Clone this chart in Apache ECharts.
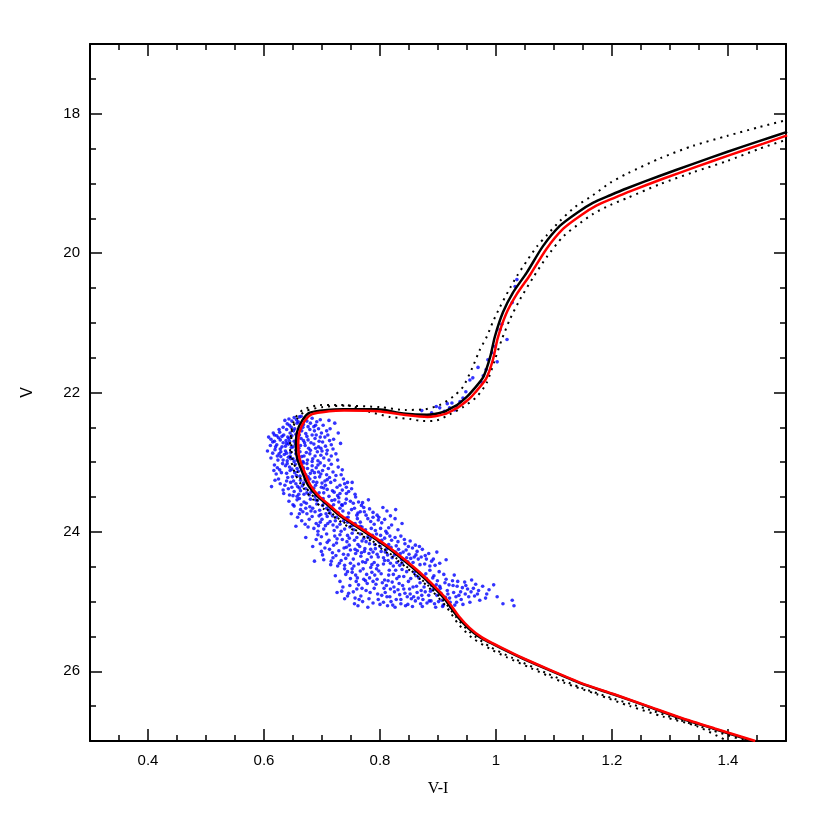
<!DOCTYPE html>
<html>
<head>
<meta charset="utf-8">
<script src="https://cdn.jsdelivr.net/npm/echarts@6/dist/echarts.min.js"></script>
<style>
  html, body { margin: 0; padding: 0; background: #fff; }
  #chart { width: 830px; height: 830px; }
</style>
</head>
<body>
<div id="chart"></div>
<script>
// tick values
const xMajor = [0.4, 0.6, 0.8, 1, 1.2, 1.4];
const yMajor = [18, 20, 22, 24, 26];

// isochrone, black solid (V-I, V), from faint MS up to the RGB
const isoBlack = [
  [1.443,27.00],[1.374,26.82],[1.317,26.67],[1.260,26.50],[1.202,26.33],[1.145,26.17],
  [1.088,25.97],[1.047,25.82],[1.029,25.75],[0.990,25.59],[0.972,25.51],[0.952,25.38],
  [0.933,25.21],[0.912,24.97],[0.886,24.74],[0.860,24.54],[0.834,24.36],[0.809,24.20],
  [0.783,24.05],[0.757,23.91],[0.731,23.77],[0.709,23.61],[0.691,23.48],[0.676,23.33],
  [0.666,23.14],[0.657,22.94],[0.655,22.76],[0.657,22.57],[0.666,22.40],[0.679,22.29],
  [0.709,22.25],[0.736,22.24],[0.795,22.24],[0.840,22.30],[0.881,22.32],[0.909,22.28],
  [0.926,22.21],[0.933,22.18],[0.950,22.06],[0.960,21.97],[0.978,21.78],[0.990,21.49],
  [0.998,21.20],[1.012,20.85],[1.029,20.57],[1.053,20.28],[1.081,19.90],[1.110,19.61],
  [1.140,19.42],[1.167,19.28],[1.197,19.17],[1.226,19.07],[1.283,18.89],[1.340,18.72],
  [1.398,18.55],[1.455,18.39],[1.502,18.26]
];

// fitted isochrone, red
const isoRed = [
  [1.447,27.00],[1.377,26.82],[1.320,26.67],[1.262,26.50],[1.204,26.33],[1.147,26.17],
  [1.090,25.97],[1.049,25.82],[1.031,25.75],[0.992,25.59],[0.975,25.51],[0.955,25.38],
  [0.936,25.21],[0.915,24.97],[0.889,24.74],[0.863,24.54],[0.837,24.36],[0.812,24.20],
  [0.786,24.05],[0.760,23.91],[0.734,23.77],[0.712,23.61],[0.694,23.48],[0.680,23.33],
  [0.670,23.14],[0.661,22.94],[0.659,22.76],[0.661,22.57],[0.670,22.41],[0.683,22.31],
  [0.712,22.27],[0.738,22.26],[0.797,22.27],[0.841,22.32],[0.882,22.35],[0.911,22.31],
  [0.929,22.24],[0.937,22.20],[0.954,22.09],[0.964,22.00],[0.983,21.80],[0.995,21.52],
  [1.003,21.22],[1.017,20.88],[1.035,20.60],[1.059,20.31],[1.087,19.94],[1.116,19.65],
  [1.146,19.46],[1.173,19.32],[1.203,19.21],[1.232,19.11],[1.289,18.93],[1.346,18.76],
  [1.404,18.59],[1.461,18.43],[1.502,18.31]
];

// dotted isochrone, bluer/brighter
const isoDotA = [
  [1.438,27.02],[1.374,26.85],[1.317,26.70],[1.260,26.54],[1.202,26.39],[1.145,26.23],
  [1.088,26.03],[1.029,25.81],[0.990,25.65],[0.955,25.44],[0.931,25.22],[0.910,24.99],
  [0.883,24.77],[0.856,24.57],[0.830,24.39],[0.804,24.23],[0.778,24.08],[0.752,23.94],
  [0.727,23.80],[0.704,23.64],[0.686,23.50],[0.670,23.34],[0.658,23.15],[0.649,22.95],
  [0.647,22.75],[0.648,22.55],[0.657,22.38],[0.671,22.27],[0.700,22.21],[0.740,22.19],
  [0.800,22.21],[0.843,22.25],[0.878,22.24],[0.903,22.18],[0.926,22.06],[0.943,21.92],
  [0.960,21.63],[0.972,21.39],[0.984,21.20],[0.995,20.98],[1.007,20.77],[1.021,20.55],
  [1.036,20.33],[1.055,20.09],[1.071,19.90],[1.088,19.74],[1.110,19.54],[1.136,19.34],
  [1.167,19.17],[1.197,18.99],[1.226,18.86],[1.283,18.64],[1.340,18.46],[1.398,18.32],
  [1.455,18.19],[1.502,18.09]
];

// dotted isochrone, redder/fainter
const isoDotB = [
  [1.403,27.02],[1.347,26.79],[1.288,26.65],[1.231,26.50],[1.174,26.33],[1.116,26.16],
  [1.059,25.95],[1.019,25.80],[0.990,25.68],[0.959,25.52],[0.936,25.33],[0.914,25.07],
  [0.888,24.83],[0.861,24.62],[0.835,24.44],[0.809,24.28],[0.782,24.12],[0.755,23.98],
  [0.728,23.83],[0.703,23.67],[0.684,23.53],[0.667,23.36],[0.654,23.17],[0.646,22.95],
  [0.645,22.76],[0.647,22.57],[0.653,22.38],[0.667,22.25],[0.697,22.18],[0.740,22.18],
  [0.783,22.28],[0.817,22.35],[0.852,22.38],[0.874,22.41],[0.898,22.40],[0.921,22.31],
  [0.943,22.21],[0.967,22.06],[0.984,21.86],[0.998,21.53],[1.010,21.24],[1.024,20.95],
  [1.041,20.67],[1.064,20.35],[1.088,20.05],[1.116,19.76],[1.140,19.60],[1.167,19.44],
  [1.197,19.31],[1.226,19.21],[1.283,19.01],[1.340,18.84],[1.398,18.68],[1.455,18.50],
  [1.502,18.37]
];

// observed stars (V-I, V)
const stars = [
  // upper turnoff
  [0.652,22.36],[0.661,22.35],[0.671,22.38],[0.648,22.41],[0.683,22.37],[0.657,22.44],[0.668,22.46],
  [0.644,22.47],[0.691,22.42],[0.702,22.47],[0.676,22.49],[0.662,22.52],[0.639,22.53],[0.651,22.55],
  [0.687,22.55],[0.714,22.52],[0.699,22.58],[0.672,22.59],[0.645,22.58],[0.633,22.50],[0.722,22.44],
  [0.728,22.58],[0.656,22.39],[0.680,22.44],
  [0.636,22.40],[0.659,22.42],[0.674,22.41],[0.689,22.47],[0.647,22.50],[0.665,22.55],[0.679,22.53],
  [0.694,22.52],[0.708,22.55],[0.627,22.57],[0.655,22.60],[0.683,22.61],[0.697,22.64],[0.626,22.53],
  [0.640,22.45],[0.667,22.50],[0.686,22.49],[0.653,22.52],[0.643,22.38],[0.697,22.39],[0.664,22.34],
  [0.712,22.40],
  // turnoff
  [0.608,22.64],[0.615,22.71],[0.622,22.62],[0.628,22.68],[0.634,22.61],[0.639,22.73],[0.643,22.66],
  [0.648,22.62],[0.631,22.78],[0.619,22.82],[0.626,22.88],[0.637,22.84],[0.642,22.93],[0.647,22.79],
  [0.652,22.70],[0.658,22.64],[0.663,22.76],[0.668,22.69],[0.674,22.63],[0.681,22.72],[0.688,22.66],
  [0.694,22.78],[0.701,22.71],[0.709,22.83],[0.716,22.75],[0.673,22.86],[0.665,22.92],[0.657,22.97],
  [0.684,22.95],[0.698,22.90],[0.712,22.97],[0.612,22.94],[0.633,22.97],[0.646,22.86],[0.655,22.83],
  [0.677,22.80],[0.692,22.85],[0.661,22.61],[0.622,22.75],[0.638,22.69],[0.650,22.95],[0.667,22.99],
  [0.705,22.64],[0.629,22.92],[0.616,22.58],[0.690,22.61],[0.724,22.88],[0.642,22.74],
  [0.612,22.67],[0.625,22.65],[0.633,22.72],[0.644,22.70],[0.654,22.74],[0.664,22.66],[0.676,22.68],
  [0.686,22.74],[0.695,22.70],[0.706,22.77],[0.713,22.69],[0.620,22.78],[0.628,22.81],[0.637,22.77],
  [0.650,22.78],[0.660,22.80],[0.671,22.76],[0.680,22.83],[0.689,22.80],[0.700,22.84],[0.719,22.81],
  [0.615,22.87],[0.623,22.91],[0.635,22.89],[0.645,22.91],[0.655,22.88],[0.662,22.85],[0.669,22.91],
  [0.679,22.88],[0.688,22.91],[0.703,22.94],[0.716,22.91],[0.624,22.97],[0.640,22.98],[0.652,22.99],
  [0.675,22.97],[0.693,22.98],[0.618,22.70],[0.631,22.63],[0.641,22.64],[0.656,22.68],[0.670,22.72],
  [0.611,22.76],[0.606,22.84],[0.710,22.61],[0.720,22.67],[0.732,22.73],[0.727,22.97],[0.618,22.61],
  [0.646,22.95],[0.661,22.96],[0.683,22.99],[0.698,22.80],[0.708,22.88],[0.639,22.87],[0.629,22.85],
  // upper main sequence
  [0.618,23.04],[0.627,23.11],[0.632,23.02],[0.639,23.16],[0.644,23.07],[0.649,23.21],[0.654,23.03],
  [0.659,23.13],[0.663,23.26],[0.668,23.08],[0.672,23.18],[0.677,23.31],[0.683,23.05],[0.688,23.22],
  [0.694,23.14],[0.699,23.36],[0.705,23.27],[0.711,23.09],[0.718,23.41],[0.724,23.19],[0.731,23.33],
  [0.742,23.45],[0.751,23.38],[0.625,23.24],[0.636,23.33],[0.646,23.29],[0.652,23.42],[0.661,23.37],
  [0.669,23.46],[0.681,23.43],[0.692,23.48],[0.703,23.44],[0.715,23.29],[0.634,23.45],[0.657,23.49],
  [0.674,23.02],[0.697,23.01],[0.642,23.38],[0.666,23.34],[0.686,23.37],[0.621,23.17],[0.708,23.18],
  [0.656,23.19],[0.679,23.24],[0.728,23.07],[0.645,23.12],[0.663,23.06],[0.691,23.29],[0.613,23.35],
  [0.737,23.24],
  [0.623,23.08],[0.630,23.15],[0.637,23.05],[0.641,23.22],[0.648,23.10],[0.651,23.27],[0.657,23.09],
  [0.662,23.20],[0.666,23.12],[0.671,23.25],[0.675,23.09],[0.680,23.16],[0.685,23.28],[0.690,23.08],
  [0.696,23.21],[0.701,23.12],[0.706,23.33],[0.713,23.22],[0.719,23.14],[0.726,23.36],[0.733,23.18],
  [0.739,23.31],[0.746,23.42],[0.757,23.46],[0.628,23.31],[0.639,23.27],[0.648,23.36],[0.655,23.31],
  [0.663,23.41],[0.672,23.38],[0.678,23.47],[0.684,23.41],[0.689,23.33],[0.695,23.44],[0.700,23.30],
  [0.709,23.39],[0.712,23.49],[0.721,23.43],[0.727,23.48],[0.735,23.40],[0.617,23.12],[0.619,23.26],
  [0.633,23.40],[0.644,23.47],[0.653,23.15],[0.668,23.30],[0.676,23.21],[0.693,23.04],[0.704,23.05],
  [0.716,23.03],[0.735,23.11],[0.744,23.29],[0.660,23.46],[0.683,23.12],[0.698,23.17],[0.722,23.26],
  [0.640,23.02],[0.658,23.35],[0.674,23.44],[0.687,23.15],[0.709,23.25],[0.731,23.45],[0.650,23.48],
  [0.668,23.01],[0.688,23.49],[0.703,23.37],[0.742,23.36],[0.752,23.29],
  [0.643,23.56],[0.652,23.63],[0.661,23.52],[0.667,23.71],[0.673,23.59],[0.678,23.82],[0.684,23.66],
  [0.689,23.54],[0.695,23.77],[0.701,23.62],[0.706,23.91],[0.712,23.69],[0.717,23.55],[0.723,23.84],
  [0.728,23.73],[0.734,23.61],[0.739,23.96],[0.745,23.79],[0.751,23.68],[0.757,23.88],[0.763,23.57],
  [0.769,23.93],[0.776,23.76],[0.784,23.85],[0.792,23.98],[0.803,23.87],[0.815,23.94],[0.826,23.81],
  [0.658,23.79],[0.671,23.89],[0.686,23.95],[0.697,23.86],[0.709,23.78],[0.721,23.98],[0.731,23.89],
  [0.742,23.53],[0.754,23.59],[0.766,23.71],[0.688,23.71],[0.702,23.52],[0.716,23.64],[0.729,23.57],
  [0.679,23.64],[0.693,23.99],[0.748,23.93],[0.761,23.81],[0.772,23.65],[0.664,23.61],[0.647,23.74],
  [0.707,23.74],[0.736,23.70],[0.719,23.90],[0.788,23.72],[0.655,23.92],[0.798,23.79],
  [0.650,23.61],[0.657,23.54],[0.663,23.68],[0.669,23.57],[0.674,23.74],[0.680,23.53],[0.683,23.78],
  [0.691,23.60],[0.696,23.69],[0.700,23.82],[0.704,23.58],[0.710,23.88],[0.714,23.73],[0.720,23.61],
  [0.725,23.79],[0.731,23.66],[0.737,23.84],[0.740,23.59],[0.746,23.73],[0.752,23.91],[0.756,23.66],
  [0.760,23.76],[0.766,23.86],[0.770,23.58],[0.775,23.97],[0.779,23.81],[0.782,23.67],[0.790,23.89],
  [0.795,23.76],[0.801,23.95],[0.808,23.82],[0.812,23.70],[0.820,23.90],[0.831,23.97],[0.838,23.88],
  [0.665,23.84],[0.676,23.93],[0.681,23.70],[0.690,23.88],[0.703,23.96],[0.714,23.85],[0.726,23.93],
  [0.733,23.99],[0.744,23.86],[0.755,23.97],[0.766,23.92],[0.773,23.71],[0.785,23.95],[0.797,23.83],
  [0.810,23.99],[0.661,23.74],[0.672,23.66],[0.692,23.55],[0.708,23.66],[0.722,23.54],[0.735,23.62],
  [0.749,23.56],[0.758,23.50],[0.768,23.62],[0.780,23.54],[0.694,23.91],[0.718,23.77],[0.742,23.80],
  [0.762,23.73],[0.788,23.79],[0.805,23.65],[0.818,23.77],[0.827,23.68],[0.698,23.75],[0.729,23.51],
  // middle main sequence
  [0.672,24.08],[0.684,24.21],[0.693,24.04],[0.701,24.33],[0.709,24.15],[0.716,24.42],[0.722,24.06],
  [0.729,24.27],[0.735,24.11],[0.741,24.38],[0.747,24.19],[0.752,24.02],[0.758,24.31],[0.763,24.46],
  [0.769,24.13],[0.774,24.24],[0.779,24.07],[0.785,24.36],[0.791,24.18],[0.796,24.48],[0.802,24.28],
  [0.808,24.09],[0.814,24.41],[0.819,24.22],[0.825,24.33],[0.831,24.14],[0.838,24.45],[0.845,24.26],
  [0.853,24.38],[0.861,24.19],[0.869,24.47],[0.878,24.34],[0.889,24.42],[0.898,24.29],[0.713,24.25],
  [0.727,24.49],[0.738,24.23],[0.756,24.12],[0.767,24.35],[0.782,24.17],[0.794,24.03],[0.806,24.37],
  [0.817,24.06],[0.829,24.44],[0.842,24.11],[0.856,24.23],[0.744,24.05],[0.733,24.41],[0.761,24.27],
  [0.775,24.44],[0.788,24.29],[0.799,24.15],[0.811,24.25],[0.823,24.49],[0.835,24.31],[0.866,24.39],
  [0.697,24.17],[0.719,24.37],[0.749,24.45],[0.772,24.09],[0.786,24.47],[0.812,24.02],[0.848,24.43],
  [0.873,24.25],[0.687,24.42],
  [0.690,24.11],[0.699,24.07],[0.705,24.23],[0.712,24.12],[0.718,24.30],[0.725,24.16],[0.731,24.04],
  [0.737,24.32],[0.743,24.14],[0.749,24.26],[0.754,24.39],[0.760,24.08],[0.765,24.21],[0.770,24.43],
  [0.776,24.14],[0.781,24.31],[0.787,24.05],[0.792,24.24],[0.797,24.36],[0.803,24.12],[0.809,24.29],
  [0.815,24.18],[0.821,24.37],[0.826,24.08],[0.832,24.25],[0.837,24.40],[0.843,24.17],[0.850,24.32],
  [0.857,24.44],[0.864,24.28],[0.871,24.36],[0.877,24.46],[0.884,24.31],[0.892,24.39],[0.903,24.45],
  [0.914,24.40],[0.703,24.40],[0.715,24.47],[0.724,24.34],[0.730,24.45],[0.739,24.48],[0.745,24.33],
  [0.755,24.49],[0.762,24.18],[0.768,24.30],[0.778,24.40],[0.784,24.25],[0.790,24.44],[0.800,24.21],
  [0.806,24.46],[0.813,24.33],[0.818,24.45],[0.828,24.20],[0.834,24.48],[0.840,24.29],[0.846,24.37],
  [0.852,24.13],[0.859,24.36],[0.868,24.21],[0.880,24.39],[0.895,24.48],[0.708,24.03],[0.726,24.10],
  [0.747,24.09],[0.766,24.03],[0.783,24.10],[0.801,24.05],[0.820,24.12],[0.836,24.06],[0.849,24.21],
  [0.862,24.33],[0.886,24.49],[0.699,24.28],[0.720,24.19],[0.742,24.22],[0.757,24.25],[0.773,24.28],
  [0.795,24.32],[0.808,24.41],[0.827,24.29],
  // faint end
  [0.723,24.63],[0.736,24.79],[0.746,24.88],[0.752,24.58],[0.759,24.71],[0.764,24.97],[0.771,24.53],
  [0.776,24.84],[0.782,24.66],[0.788,25.02],[0.793,24.75],[0.798,24.56],[0.803,24.91],[0.808,24.69],
  [0.813,25.06],[0.818,24.82],[0.823,24.61],[0.828,24.97],[0.833,24.74],[0.838,24.54],[0.843,24.88],
  [0.848,25.04],[0.853,24.67],[0.858,24.93],[0.863,24.78],[0.868,24.59],[0.873,25.07],[0.878,24.86],
  [0.883,24.72],[0.888,24.99],[0.893,24.63],[0.898,24.91],[0.904,24.81],[0.909,25.05],[0.914,24.68],
  [0.920,24.95],[0.926,24.77],[0.932,25.01],[0.939,24.86],[0.946,24.72],[0.953,24.93],[0.961,24.81],
  [0.972,24.98],[0.984,24.89],[0.996,24.76],[1.012,25.03],[1.031,25.06],[1.028,24.98],[0.757,24.95],
  [0.769,24.81],[0.784,24.51],[0.796,24.89],[0.811,24.77],[0.826,25.08],[0.836,24.97],[0.851,24.82],
  [0.866,24.95],[0.876,24.64],[0.891,24.83],[0.902,24.57],[0.917,24.89],[0.928,24.62],[0.943,25.04],
  [0.958,24.69],[0.749,24.67],[0.739,24.96],[0.762,25.06],[0.779,25.08],[0.791,24.62],[0.806,25.01],
  [0.821,24.72],[0.841,24.64],[0.856,25.07],[0.871,24.84],[0.886,24.55],[0.907,24.98],[0.922,25.08],
  [0.936,24.91],[0.951,24.82],[0.968,24.89],[0.744,24.57],[0.817,24.93],[0.831,24.83],[0.861,24.99],
  [0.881,25.02],[0.896,25.08],[0.912,24.73],[0.934,24.71],[0.977,24.78],[0.726,24.87],
  [0.731,24.71],[0.741,24.61],[0.748,24.77],[0.754,24.86],[0.758,24.62],[0.763,24.76],[0.767,24.92],
  [0.772,24.68],[0.778,24.74],[0.781,24.96],[0.786,24.58],[0.790,24.81],[0.795,24.68],[0.800,25.04],
  [0.804,24.73],[0.809,24.87],[0.815,24.62],[0.819,25.00],[0.824,24.79],[0.829,24.67],[0.834,24.90],
  [0.839,24.77],[0.844,25.06],[0.849,24.71],[0.854,24.96],[0.859,24.58],[0.864,24.87],[0.869,24.73],
  [0.874,24.97],[0.879,24.60],[0.884,24.91],[0.889,24.77],[0.894,25.03],[0.899,24.70],[0.905,24.88],
  [0.910,24.61],[0.916,24.84],[0.921,25.01],[0.927,24.87],[0.933,24.78],[0.940,24.97],[0.947,24.89],
  [0.955,25.01],[0.963,24.92],[0.970,24.84],[0.982,24.95],[0.752,24.53],[0.766,24.56],[0.777,24.61],
  [0.794,24.53],[0.802,24.60],[0.816,24.55],[0.827,24.55],[0.846,24.57],[0.862,24.63],[0.880,24.67],
  [0.897,24.76],[0.744,24.92],[0.756,25.03],[0.770,25.00],[0.783,24.87],[0.797,24.97],[0.812,24.93],
  [0.822,25.05],[0.836,25.03],[0.847,24.93],[0.857,24.79],[0.872,24.91],[0.887,24.85],[0.901,25.00],
  [0.913,24.94],[0.925,24.70],[0.942,24.80],[0.957,24.86],[0.734,24.85],[0.760,24.82],[0.775,24.70],
  [0.788,24.71],[0.807,24.81],[0.825,24.86],[0.841,24.82],[0.852,24.89],[0.867,24.66],[0.876,24.79],
  [0.891,24.66],[0.903,24.78],[0.919,24.76],[0.931,24.93],[0.948,24.77],[0.965,24.75],[0.988,24.83],
  [1.002,24.93],[0.739,24.53],[0.761,24.66],[0.814,24.70],[0.833,24.64],[0.870,25.03],[0.885,24.99],
  [0.908,25.07],[0.929,25.05],
  // subgiant branch and lower RGB
  [0.903,22.22],[0.916,22.16],[0.924,22.15],[0.929,22.25],[0.938,22.13],[0.933,22.21],[0.943,22.08],
  [0.948,21.99],[0.955,21.82],[0.960,21.79],[0.969,21.64],[0.976,21.86],[0.978,21.76],[0.983,21.67],
  [0.986,21.53],[0.993,21.43],[0.998,21.34],[1.002,21.56],[1.007,21.10],[1.010,21.02],[1.019,21.24],
  [1.028,20.71],[1.033,20.48],[1.036,20.38],[0.872,22.26],[0.889,22.29],[0.911,22.27],[0.897,22.20],
  [0.920,22.22]
];

const font = 'Liberation Sans';

function majorX(pos, labels) {
  return {
    type: 'value', min: 0.3, max: 1.5, position: pos,
    axisLine: { show: true, onZero: false, lineStyle: { color: '#000', width: 2 } },
    axisTick: { show: true, inside: true, length: 12, customValues: xMajor, lineStyle: { color: '#000', width: 1.5 } },
    axisLabel: labels ? {
      show: true, customValues: xMajor, margin: 12, color: '#000', fontSize: 15, fontFamily: font,
      formatter: v => String(+(+v).toFixed(2))
    } : { show: false },
    splitLine: { show: false }
  };
}
function minorX(pos) {
  return {
    type: 'value', min: 0.3, max: 1.5, interval: 0.05, position: pos,
    axisLine: { show: false, onZero: false },
    axisTick: { show: true, inside: true, length: 6, lineStyle: { color: '#000', width: 1.5 } },
    axisLabel: { show: false }, splitLine: { show: false }
  };
}
function majorY(pos, labels) {
  return {
    type: 'value', min: 17, max: 27, inverse: true, position: pos,
    axisLine: { show: true, onZero: false, lineStyle: { color: '#000', width: 2 } },
    axisTick: { show: true, inside: true, length: 12, customValues: yMajor, lineStyle: { color: '#000', width: 1.5 } },
    axisLabel: labels ? {
      show: true, customValues: yMajor, margin: 10, color: '#000', fontSize: 15, fontFamily: font
    } : { show: false },
    splitLine: { show: false }
  };
}
function minorY(pos) {
  return {
    type: 'value', min: 17, max: 27, interval: 0.5, inverse: true, position: pos,
    axisLine: { show: false, onZero: false },
    axisTick: { show: true, inside: true, length: 6, lineStyle: { color: '#000', width: 1.5 } },
    axisLabel: { show: false }, splitLine: { show: false }
  };
}

const xMain = majorX('bottom', true);
xMain.name = 'V-I';
xMain.nameLocation = 'middle';
xMain.nameGap = 40;
xMain.nameTextStyle = { color: '#000', fontSize: 16, fontFamily: 'Liberation Serif' };

const yMain = majorY('left', true);
yMain.name = 'V';
yMain.nameLocation = 'middle';
yMain.nameGap = 54;
yMain.nameRotate = 90;
yMain.nameTextStyle = { color: '#000', fontSize: 16, fontFamily: font };

const chart = echarts.init(document.getElementById('chart'), null, { renderer: 'canvas' });
chart.setOption({
  backgroundColor: '#fff',
  animation: false,
  grid: { left: 90, right: 44, top: 44, bottom: 89 },
  xAxis: [xMain, minorX('bottom'), majorX('top', false), minorX('top')],
  yAxis: [yMain, minorY('left'), majorY('right', false), minorY('right')],
  series: [
    {
      name: 'stars', type: 'scatter', data: stars,
      symbol: 'circle', symbolSize: 3.6,
      itemStyle: { color: '#0000ff' }
    },
    {
      name: 'dotted A', type: 'line', data: isoDotA, showSymbol: false, smooth: 0.25,
      lineStyle: { color: '#000', width: 2, type: [2, 5] }
    },
    {
      name: 'dotted B', type: 'line', data: isoDotB, showSymbol: false, smooth: 0.25,
      lineStyle: { color: '#000', width: 2, type: [2, 5] }
    },
    {
      name: 'isochrone', type: 'line', data: isoBlack, showSymbol: false, smooth: 0.25,
      lineStyle: { color: '#000', width: 2.5 }
    },
    {
      name: 'fit', type: 'line', data: isoRed, showSymbol: false, smooth: 0.25,
      lineStyle: { color: '#ff0000', width: 2.5 }
    }
  ]
});
</script>
</body>
</html>
